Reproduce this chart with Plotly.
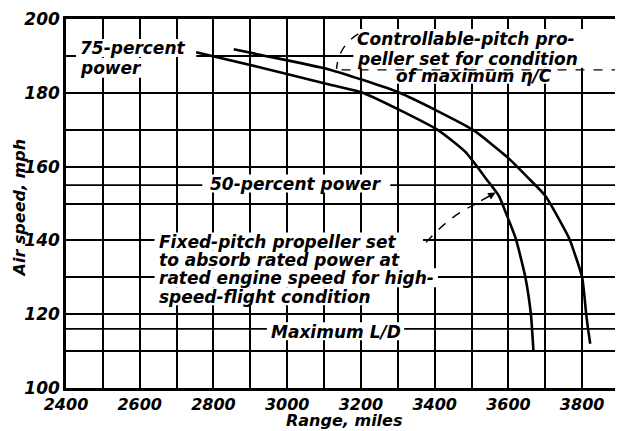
import plotly.graph_objects as go

# ---- data ----
fixed_pitch_range = [2753, 2922, 3111, 3205, 3407, 3484, 3541, 3574, 3595, 3620, 3646, 3661, 3668]
fixed_pitch_speed = [191.0, 187.0, 182.3, 180.0, 170.0, 163.9, 156.5, 152.1, 147.0, 140.5, 130.0, 120.0, 110.0]

controllable_range = [2855, 2922, 3111, 3305, 3503, 3600, 3662, 3700, 3736, 3765, 3800, 3811, 3816, 3822]
controllable_speed = [191.8, 190.4, 186.4, 180.0, 170.0, 162.3, 156.1, 152.1, 146.0, 140.5, 130.0, 120.0, 116.0, 112.0]

x_tick_vals = [2400, 2600, 2800, 3000, 3200, 3400, 3600, 3800]
x_tick_text = ["2400", "2600", "2800", "3000", "3200", "3400", "3600", "3800"]
y_tick_vals = [100, 120, 140, 160, 180, 200]
y_tick_text = ["100", "120", "140", "160", "180", "200"]

extra_lines = [155, 116]   # 50-percent power, maximum L/D

X0, X1, Y0, Y1 = 2400, 3900, 100, 200
FONT = "DejaVu Sans"
tf = dict(family=FONT, size=17, color="black", style="italic", weight="bold")
xtf = dict(family=FONT, size=16, color="black", style="italic", weight="bold")
af = dict(family=FONT, size=17, color="black", style="italic", weight="bold")

# plot area on the page (body has an 8px margin)
PL, PR, PT, PB = 66, 622, 18, 388
def px2x(px):
    return X0 + (px - PL) * (X1 - X0) / (PR - PL)
def px2y(py):
    return Y1 - (py - PT) * (Y1 - Y0) / (PB - PT)

fig = go.Figure()
for xs, ys in [(fixed_pitch_range, fixed_pitch_speed), (controllable_range, controllable_speed)]:
    fig.add_trace(go.Scatter(x=xs, y=ys, mode="lines",
                             line=dict(color="black", width=2.6, shape="spline", smoothing=0.5),
                             hoverinfo="skip"))

for yv in extra_lines:
    fig.add_shape(type="line", xref="paper", x0=0, x1=1, y0=yv, y1=yv,
                  line=dict(color="black", width=1.8), layer="below")

# dashed leaders
fig.add_shape(type="line", x0=px2x(343), x1=px2x(621), y0=px2y(69), y1=px2y(69),
              line=dict(color="black", width=1.4, dash="dash"))
fig.add_shape(type="path",
              path=f"M {px2x(360)},{px2y(33)} Q {px2x(340)},{px2y(45)} {px2x(338)},{px2y(68)}",
              line=dict(color="black", width=1.4, dash="dash"))
fig.add_shape(type="path",
              path=f"M {px2x(428)},{px2y(242)} Q {px2x(455)},{px2y(212)} {px2x(482)},{px2y(202)}",
              line=dict(color="black", width=1.4, dash="dash"))
fig.add_annotation(x=px2x(498), y=px2y(192), ax=-16, ay=9, axref="pixel", ayref="pixel",
                   text="", showarrow=True, arrowhead=2, arrowsize=1, arrowwidth=1.5,
                   arrowcolor="black")

def label(text, box, xanchor="left"):
    l, t, r, b = box
    fig.add_shape(type="rect", x0=px2x(l), x1=px2x(r), y0=px2y(b), y1=px2y(t),
                  fillcolor="white", line=dict(width=0), layer="between")
    if xanchor == "left":
        x = px2x(l + 2)
    else:
        x = px2x((l + r) / 2)
    fig.add_annotation(x=x, y=px2y((t + b) / 2 + 0.5), text=text, showarrow=False,
                       xanchor=xanchor, yanchor="middle", font=af)

label("75-percent", (76, 38, 197, 56))
label("power", (76, 57, 146, 77))
label("Controllable-pitch pro-", (355, 28, 612, 48))
label("peller set for condition", (355, 48, 622, 67))
label("of maximum η/C", (392, 67, 560, 83), "center")
label("50-percent power", (203, 174, 392, 192), "center")
label("Fixed-pitch propeller set", (155, 232, 425, 250))
label("to absorb rated power at", (155, 250, 418, 268))
label("rated engine speed for high-", (155, 268, 440, 287))
label("speed-flight condition", (155, 287, 382, 305))
label("Maximum L/D", (268, 322, 406, 340), "center")

# axis titles
fig.add_annotation(xref="paper", yref="paper", x=0, xshift=-47, y=(PB - 208) / (PB - PT),
                   text="Air speed, mph", textangle=-90, showarrow=False,
                   xanchor="center", yanchor="middle",
                   font=dict(family=FONT, size=16, color="black", style="italic", weight="bold"))
fig.add_annotation(xref="paper", yref="paper", x=(346 - PL) / (PR - PL), y=(PB - 421) / (PB - PT),
                   text="Range, miles", showarrow=False,
                   xanchor="center", yanchor="middle",
                   font=dict(family=FONT, size=16, color="black", style="italic", weight="bold"))

grid = dict(showgrid=True, gridcolor="black", gridwidth=1.6)
fig.update_xaxes(range=[X0, X1], tickmode="array", tickvals=x_tick_vals, ticktext=x_tick_text,
                 tickfont=xtf, ticks="", showline=True, linecolor="black", linewidth=2.6, mirror=True,
                 zeroline=False, ticklabeloverflow="allow", **grid,
                 minor=dict(tickmode="linear", tick0=2400, dtick=100, showgrid=True,
                            gridcolor="black", gridwidth=1.6))
fig.update_yaxes(range=[Y0, Y1], tickmode="array", tickvals=y_tick_vals, ticktext=y_tick_text,
                 tickfont=tf, ticks="", showline=True, linecolor="black", linewidth=2.6, mirror=True,
                 zeroline=False, ticklabeloverflow="allow", **grid,
                 minor=dict(tickmode="linear", tick0=100, dtick=10, showgrid=True,
                            gridcolor="black", gridwidth=1.6))

fig.update_layout(width=615, height=423, margin=dict(l=PL - 8, r=615 - (PR - 8), t=PT - 8, b=423 - (PB - 8)),
                  plot_bgcolor="white", paper_bgcolor="white", showlegend=False)

fig.write_html("out.html")
